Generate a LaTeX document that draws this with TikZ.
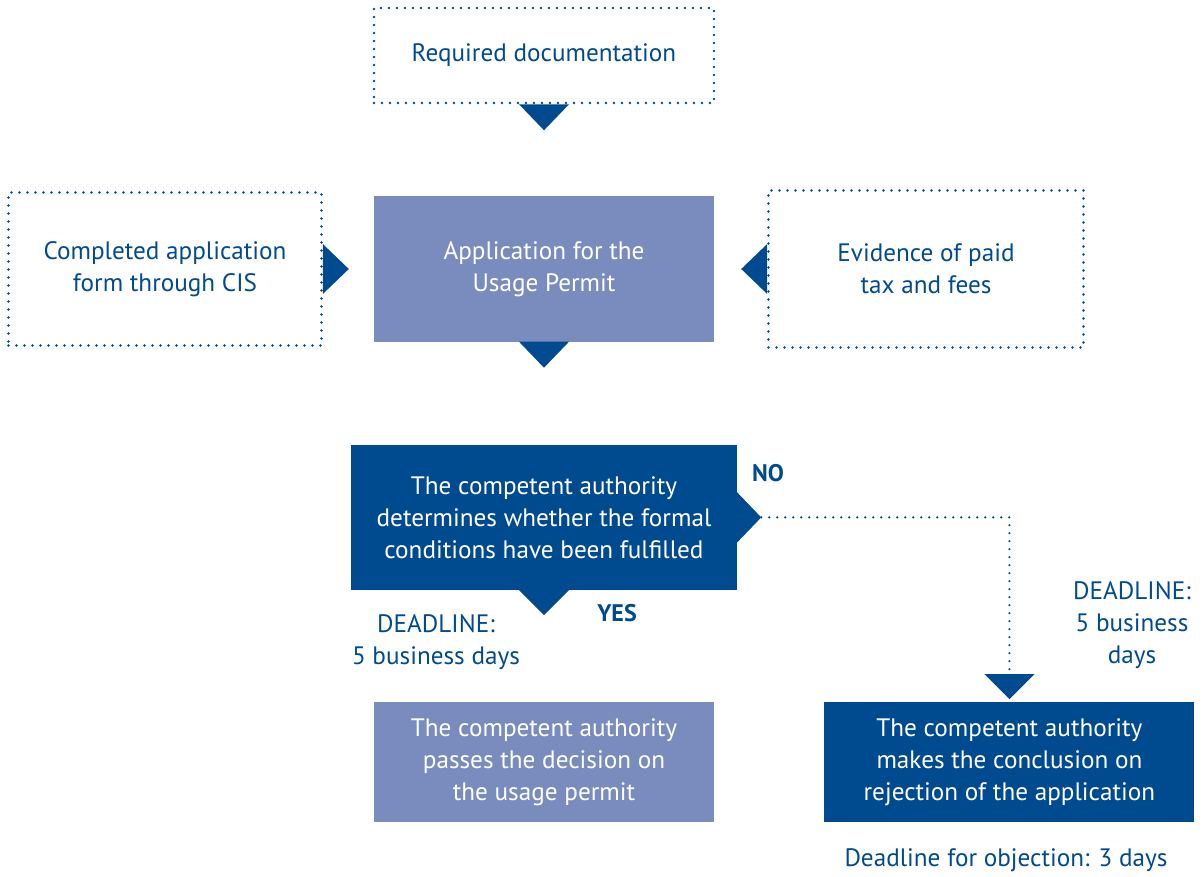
\documentclass[tikz,border=0pt]{standalone}
\usepackage{fontspec}
\setmainfont{PT Sans}
\usetikzlibrary{positioning}

\definecolor{darkblue}{RGB}{0,74,143}
\definecolor{lightblue}{RGB}{122,140,190}

\begin{document}
\begin{tikzpicture}[
  x=1pt, y=-1pt,
  every node/.style={font=\fontsize{25.2}{32}\selectfont},
  dotline/.style={draw=darkblue, line width=2.6pt, line cap=round, dash pattern=on 0pt off 8pt},
  dotbox/.style={rectangle, dotline, text=darkblue, align=center, inner sep=0pt},
  lightbox/.style={rectangle, fill=lightblue, text=white, align=center, inner sep=0pt},
  darkbox/.style={rectangle, fill=darkblue, text=white, align=center, inner sep=0pt},
  lbl/.style={text=darkblue, align=center},
  yesno/.style={text=darkblue, font=\fontsize{24}{32}\selectfont\bfseries},
  tip/.style={fill=darkblue}
]
\useasboundingbox (0,0) rectangle (1204,877);

% Main Flow
\node[dotbox, minimum width=340pt, minimum height=95pt] (req) at (544,55.5) {Required documentation};
\node[lightbox, minimum width=340pt, minimum height=145pt, below=92pt of req] (app) {Application for the\\Usage Permit};
\node[dotbox, minimum width=313pt, minimum height=153pt, left=51pt of app] (form) {Completed application\\form through CIS};
\node[dotbox, minimum width=315pt, minimum height=157pt, right=53pt of app] (fees) {Evidence of paid\\tax and fees};
\node[darkbox, minimum width=386pt, minimum height=145pt, below=103pt of app] (check) {The competent authority\\determines whether the formal\\conditions have been fulfilled};
\node[lightbox, minimum width=340pt, minimum height=120pt, below=112pt of check] (permit) {The competent authority\\passes the decision on\\the usage permit};
\node[darkbox, minimum width=370pt, minimum height=120pt, right=110pt of permit] (reject) {The competent authority\\makes the conclusion on\\rejection of the application};

% Labels
\node[yesno] (no) at (768,473) {NO};
\node[yesno] (yes) at (617,613) {YES};
\node[lbl] (dlyes) at (436,642) {DEADLINE:\\5 business days};
\node[lbl] (dlno) at (1132,625) {DEADLINE:\\5 business\\days};
\node[lbl] (objection) at (1006,860) {Deadline for objection: 3 days};

% Connections
\coordinate (notip) at ([xshift=24pt]check.east);
\coordinate (rejtip) at ([yshift=28pt]reject.north);
\draw[dotline, line width=2.4pt] (notip) -| (rejtip);

\fill[tip] ([xshift=-25pt]req.south) -- ([xshift=25pt]req.south) -- ([yshift=-26pt]req.south) -- cycle;
\fill[tip] ([yshift=25pt]form.east) -- ([yshift=-25pt]form.east) -- ([xshift=26pt]form.east) -- cycle;
\fill[tip] ([yshift=25pt]fees.west) -- ([yshift=-25pt]fees.west) -- ([xshift=-26pt]fees.west) -- cycle;
\fill[tip] ([xshift=-25pt]app.south) -- ([xshift=25pt]app.south) -- ([yshift=-26pt]app.south) -- cycle;
\fill[tip] ([yshift=25pt]check.east) -- ([yshift=-25pt]check.east) -- (notip) -- cycle;
\fill[tip] ([xshift=-25pt]check.south) -- ([xshift=25pt]check.south) -- ([yshift=-25pt]check.south) -- cycle;
\fill[tip] ([xshift=-25pt]rejtip) -- ([xshift=25pt]rejtip) -- ([yshift=-25pt]rejtip) -- cycle;

\end{tikzpicture}
\end{document}
